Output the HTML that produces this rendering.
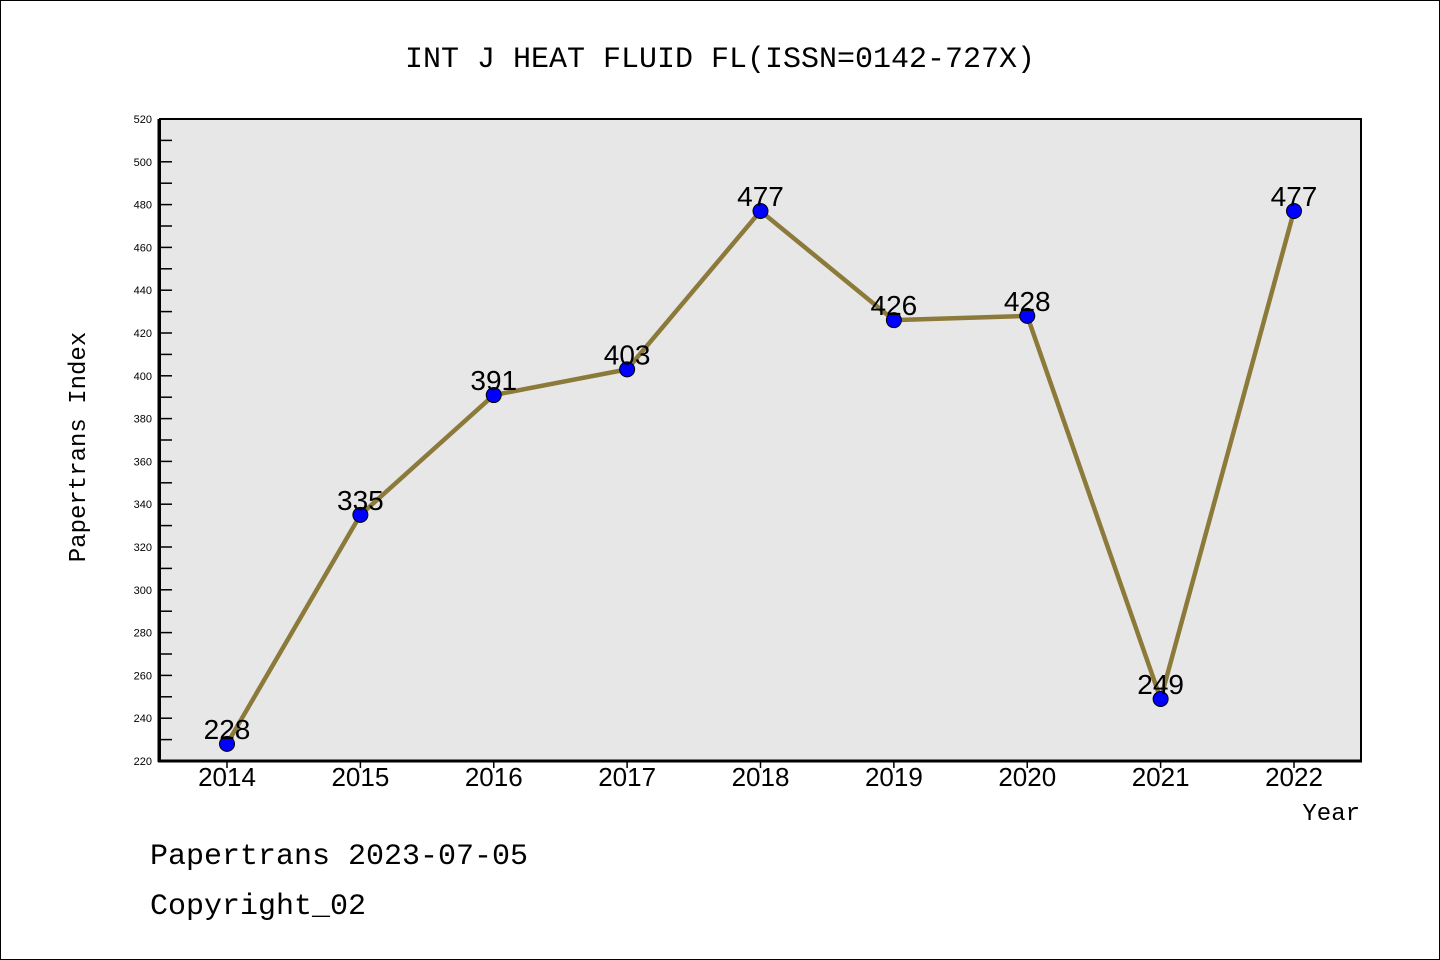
<!DOCTYPE html>
<html><head><meta charset="utf-8"><style>
html,body{margin:0;padding:0;background:#fff}
svg{display:block}
text{font-family:"Liberation Mono","DejaVu Sans Mono",monospace}
.num{font-family:"Liberation Sans","DejaVu Sans",sans-serif}
</style></head><body>
<svg id="chart" width="1440" height="960" xmlns="http://www.w3.org/2000/svg">
<rect x="0.5" y="0.5" width="1439" height="959" fill="#fff" stroke="#000"/>
<text x="720" y="67" text-anchor="middle" font-size="30">INT J HEAT FLUID FL(ISSN=0142-727X)</text>
<rect x="160" y="119" width="1201" height="642" fill="#e7e7e7" stroke="#000" stroke-width="2"/>
<line x1="159" y1="119" x2="159" y2="762" stroke="#000" stroke-width="3"/>
<line x1="158" y1="761" x2="1362" y2="761" stroke="#000" stroke-width="3"/>
<g id="yaxis"></g>
<g id="xaxis"></g>
<text transform="translate(85,447) rotate(-90)" text-anchor="middle" font-size="24">Papertrans Index</text>
<text x="1360" y="820" text-anchor="end" font-size="24">Year</text>
<g id="series"></g>
<text x="150" y="864" font-size="30">Papertrans 2023-07-05</text>
<text x="150" y="914" font-size="30">Copyright_02</text>
</svg>
<script>
const years = [2014,2015,2016,2017,2018,2019,2020,2021,2022];
const values = [228,335,391,403,477,426,428,249,477];
const yTicks = [220,240,260,280,300,320,340,360,380,400,420,440,460,480,500,520];
const NS="http://www.w3.org/2000/svg";
const yMin=220,yMax=520,plotTop=119,plotBot=761;
function ys(v){return plotBot-(v-yMin)/(yMax-yMin)*(plotBot-plotTop);}
function xs(i){return 227+i*(1294-227)/(years.length-1);}
function mk(tag,attrs,parent){const e=document.createElementNS(NS,tag);for(const k in attrs)e.setAttribute(k,attrs[k]);parent.appendChild(e);return e;}
const ya=document.getElementById('yaxis');
for(let v=yMin;v<=yMax;v+=10){
  const t=mk('line',{x1:159,x2:172,y1:ys(v),y2:ys(v),stroke:'#000','stroke-width':1.5},ya);
  
  
}
yTicks.forEach(v=>{
  const t=mk('text',{x:152,y:ys(v)+4,'text-anchor':'end','font-size':11,'class':'num'},ya);
  t.textContent=v;
  
  
});
const xa=document.getElementById('xaxis');
years.forEach((y,i)=>{
  const l=mk('line',{x1:xs(i),x2:xs(i),y1:761,y2:768,stroke:'#000','stroke-width':1.5},xa);
  
  
  const t=mk('text',{x:xs(i),y:786,'text-anchor':'middle','font-size':26,'class':'num'},xa);
  t.textContent=y;
  
  
});
const s=document.getElementById('series');
const pts=values.map((v,i)=>xs(i)+','+ys(v)).join(' ');
const pl=mk('polyline',{points:pts,fill:'none',stroke:'#8b7a3a','stroke-width':4.5,'stroke-linejoin':'round'},s);


values.forEach((v,i)=>{
  const c=mk('circle',{cx:xs(i),cy:ys(v),r:7.5,fill:'#0000ff',stroke:'#000','stroke-width':1},s);
  
  
  const t=mk('text',{x:xs(i),y:ys(v)-5,'text-anchor':'middle','font-size':28,'class':'num'},s);
  t.textContent=v;
  
  
});
</script>
</body></html>
